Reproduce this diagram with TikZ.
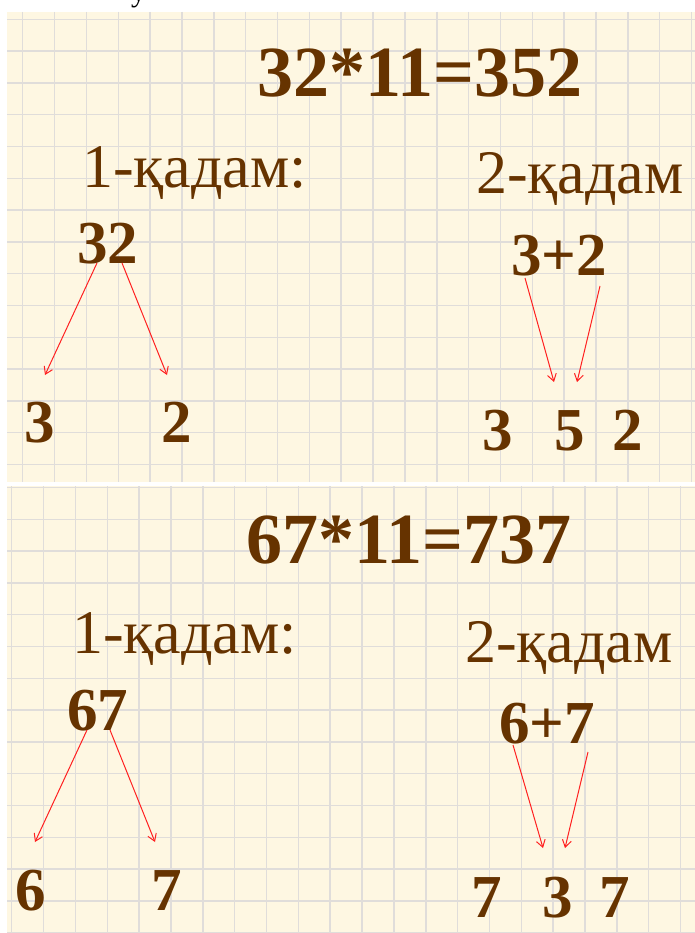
\documentclass[tikz,border=0pt]{standalone}
\usepackage{fontspec}
\setmainfont{Liberation Serif}
\usetikzlibrary{arrows.meta}
\definecolor{bgc}{HTML}{FEF7E2}
\definecolor{gridc}{HTML}{E0DDDA}
\definecolor{txt}{HTML}{663300}
\definecolor{arrc}{HTML}{FF2020}
\begin{document}
\begin{tikzpicture}[x=1pt,y=-1pt,
  every node/.style={inner sep=0pt,outer sep=0pt,anchor=base west,text=txt},
  title/.style={font=\fontsize{72}{72}\selectfont\bfseries},
  stepl/.style={font=\fontsize{62}{62}\selectfont},
  num/.style={font=\fontsize{61}{61}\selectfont\bfseries},
  gline/.style={draw=gridc,line width=1.5pt},
  arrowln/.style={draw=arrc,line width=1pt,-{Straight Barb[length=7pt,width=9pt]}},
]
\useasboundingbox (0,0) rectangle (695,933);
\fill[white] (0,0) rectangle (695,933);
% partial letter at top
\node[text=black,font=\fontsize{30}{30}\selectfont] (cut) at (131,2) {у};
% top panel
\fill[bgc] (7,12) rectangle (695,482);
\begin{scope}
\clip (7,12) rectangle (695,482);
\foreach \i in {0,...,21} \draw[gline] ({22.7+31.85*\i},12) -- ++(0,470);
\foreach \j in {0,...,14} \draw[gline] (7,{19.3+31.8*\j}) -- ++(688,0);
\end{scope}
% bottom panel
\fill[bgc] (7,486) rectangle (695,933);
\begin{scope}
\clip (7,486) rectangle (695,933);
\foreach \i in {0,...,21} \draw[gline] ({11.7+31.85*\i},486) -- ++(0,447);
\foreach \j in {0,...,14} \draw[gline] (7,{487.5+31.8*\j}) -- ++(688,0);
\end{scope}

% ---- top panel text
\node[title] (t1) at (257,97) {32*11=352};
\node[stepl] (s1) at (82,188) {1-қадам:};
\node[stepl] (s2) at (476,194) {2-қадам};
\node[num] (n32) at (77,263) {32};
\node[num] (d3) at (24,442) {3};
\node[num] (d2) at (161,442) {2};
\node[num] (sum1) at (511,275) {3+2};
\node[num] (r3) at (482,450) {3};
\node[num] (r5) at (554,450) {5};
\node[num] (r2) at (612,450) {2};

\coordinate (a1s) at (97,263);  \coordinate (a1e) at (45,375);
\coordinate (a2s) at (122,263); \coordinate (a2e) at (167,375);
\coordinate (a3s) at (525,278); \coordinate (a3e) at (554,382);
\coordinate (a4s) at (600,286); \coordinate (a4e) at (577,382);
\draw[arrowln] (a1s) -- (a1e);
\draw[arrowln] (a2s) -- (a2e);
\draw[arrowln] (a3s) -- (a3e);
\draw[arrowln] (a4s) -- (a4e);

% ---- bottom panel text
\node[title] (t2) at (246,563) {67*11=737};
\node[stepl] (s3) at (72,653) {1-қадам:};
\node[stepl] (s4) at (465,662) {2-қадам};
\node[num] (n67) at (67,730) {67};
\node[num] (d6) at (15,910) {6};
\node[num] (d7) at (151,910) {7};
\node[num] (sum2) at (499,743) {6+7};
\node[num] (q7) at (471,917) {7};
\node[num] (q3) at (542,917) {3};
\node[num] (q7b) at (599,917) {7};

\coordinate (b1s) at (87,730);  \coordinate (b1e) at (35,842);
\coordinate (b2s) at (110,730); \coordinate (b2e) at (155,842);
\coordinate (b3s) at (513,745); \coordinate (b3e) at (543,848);
\coordinate (b4s) at (588,752); \coordinate (b4e) at (565,848);
\draw[arrowln] (b1s) -- (b1e);
\draw[arrowln] (b2s) -- (b2e);
\draw[arrowln] (b3s) -- (b3e);
\draw[arrowln] (b4s) -- (b4e);
\end{tikzpicture}
\end{document}
